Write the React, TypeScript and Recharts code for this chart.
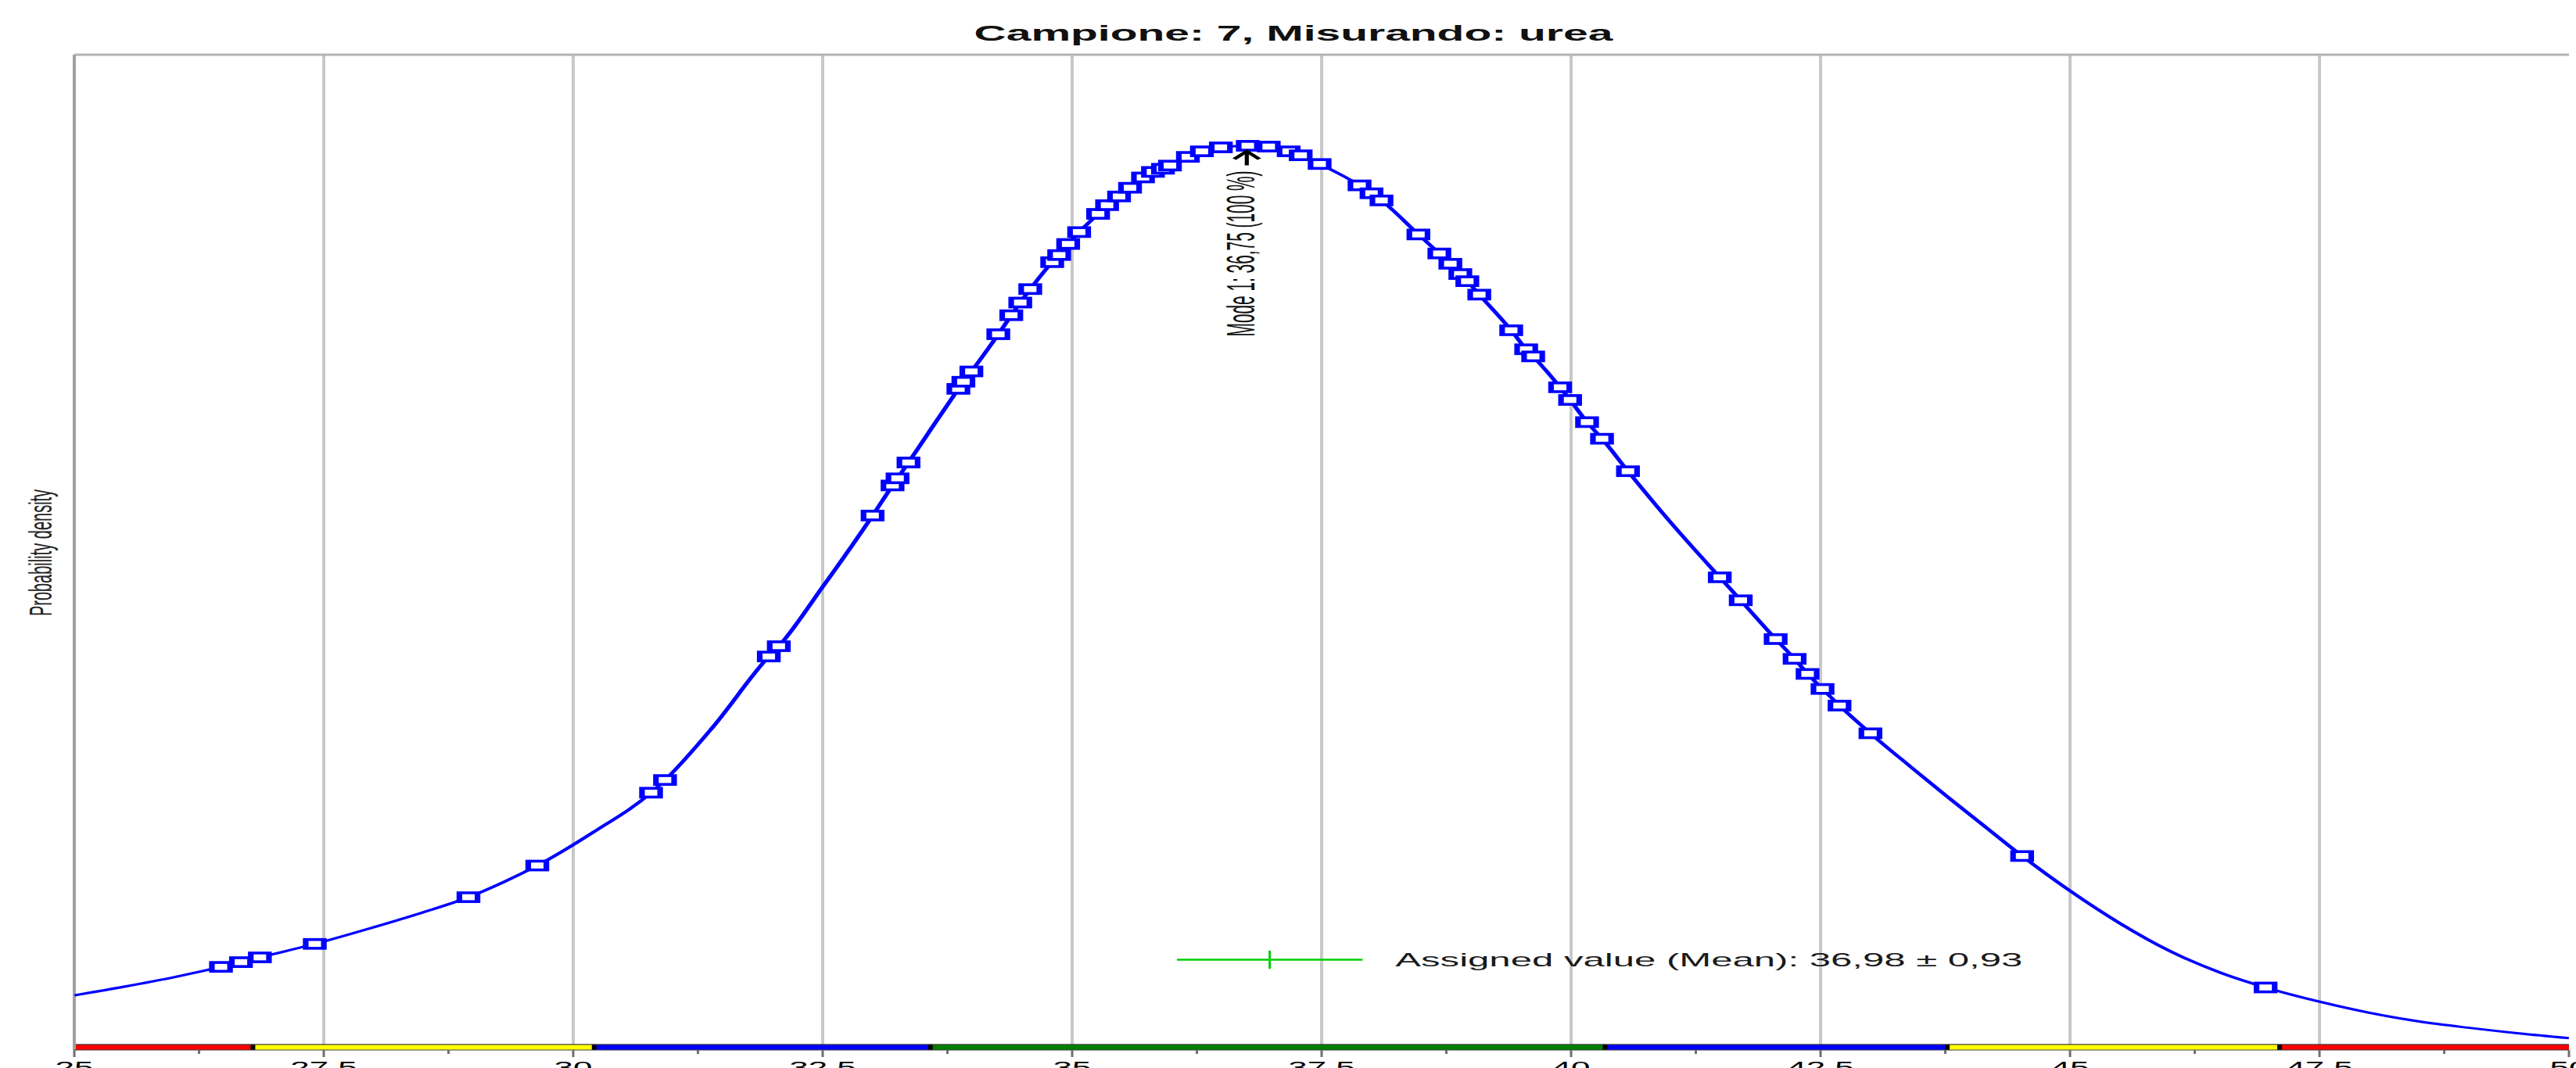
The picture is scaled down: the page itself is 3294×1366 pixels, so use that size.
import React from "react";
import {
  CartesianGrid,
  ComposedChart,
  Line,
  ReferenceArea,
  ReferenceDot,
  ReferenceLine,
  Scatter,
  XAxis,
  YAxis,
} from "recharts";

// density curve (points between the participant results)
const curveX = [
  25, 25.5, 26, 28, 28.5, 29.3, 30.2, 31.4, 32.5, 33.6,
  41, 43.4, 43.75, 44.1, 45, 45.5, 46, 46.5, 47.5, 48, 48.5, 49, 49.5, 50,
];
const curveY = [
  0.0062, 0.0073, 0.0085, 0.0148, 0.0167, 0.0205, 0.0268, 0.0401, 0.0578, 0.078,
  0.0659, 0.0351, 0.0315, 0.028, 0.0194, 0.0153, 0.0118, 0.0091, 0.0054, 0.004, 0.0029, 0.0021, 0.0014, 0.0008,
];

// participant results, drawn on the curve
const resultX = [
  26.47, 26.67, 26.86, 27.41, 28.95, 29.64, 30.78, 30.92, 31.96, 32.06,
  33.0, 33.2, 33.25, 33.36, 33.86, 33.91, 33.99, 34.26, 34.39, 34.48,
  34.58, 34.8, 34.87, 34.96, 35.07, 35.26, 35.35, 35.47, 35.58, 35.71,
  35.81, 35.91, 35.98, 36.16, 36.3, 36.49, 36.76, 36.97, 37.17, 37.29,
  37.48, 37.88, 38.0, 38.1, 38.47, 38.68, 38.79, 38.89, 38.96, 39.08,
  39.4, 39.55, 39.62, 39.89, 39.99, 40.16, 40.31, 40.57, 41.49, 41.7,
  42.05, 42.24, 42.37, 42.52, 42.69, 43.0, 44.52, 46.96,
];
const resultY = [
  0.0098, 0.0104, 0.011, 0.0127, 0.0186, 0.0226, 0.0318, 0.0334, 0.049, 0.0503,
  0.0668, 0.0706, 0.0715, 0.0735, 0.0828, 0.0837, 0.085, 0.0897, 0.0921, 0.0937,
  0.0954, 0.0988, 0.0997, 0.1011, 0.1026, 0.1049, 0.106, 0.1071, 0.1082, 0.1095,
  0.1102, 0.1106, 0.111, 0.1121, 0.1128, 0.1133, 0.1135, 0.1134, 0.1128, 0.1123,
  0.1112, 0.1085, 0.1075, 0.1066, 0.1023, 0.0999, 0.0986, 0.0973, 0.0964, 0.0947,
  0.0902, 0.0878, 0.0869, 0.083, 0.0814, 0.0786, 0.0765, 0.0724, 0.059, 0.0561,
  0.0512, 0.0487, 0.0468, 0.0449, 0.0428, 0.0393, 0.0238, 0.0072,
];

const majorTicks = [25, 27.5, 30, 32.5, 35, 37.5, 40, 42.5, 45, 47.5, 50];
const minorTicks = [26.25, 28.75, 31.25, 33.75, 36.25, 38.75, 41.25, 43.75, 46.25, 48.75];
const gridTicks = [27.5, 30, 32.5, 35, 37.5, 40, 42.5, 45, 47.5];

const zoneEdges = [25, 26.79, 30.21, 33.58, 40.34, 43.77, 47.1, 50];
const zoneColors = ["#ff0000", "#ffff00", "#0000ff", "#008000", "#0000ff", "#ffff00", "#ff0000"];

const modeValue = 36.75;
const modeDensity = 0.1135;
const assignedValue = 36.98;
const assignedUncertainty = 0.93;
const legendLevel = 0.0107;

const Y_MIN = -0.0007;
const Y_MAX = 0.125;
const FONT = "'Liberation Sans', Arial, sans-serif";

const curveData = [
  ...curveX.map((x, i) => ({ x, d: curveY[i] })),
  ...resultX.map((x, i) => ({ x, d: resultY[i] })),
].sort((a, b) => a.x - b.x);

const resultData = resultX.map((x, i) => ({ x, d: resultY[i] }));

const allTicks = [...majorTicks, ...minorTicks].sort((a, b) => a - b);

const comma = (v: number) => String(v).replace(".", ",");

function AxisTick(props: any) {
  const { x, y, payload } = props;
  const value = payload.value as number;
  const major = majorTicks.includes(value);
  return (
    <g>
      <line x1={x} x2={x} y1={y} y2={y + (major ? 9 : 5)} stroke="#707070" strokeWidth={1.5} />
      {major && (
        <text x={x} y={y + 30} textAnchor="middle" fontSize={22} fontFamily={FONT} fill="#000">
          {comma(value)}
        </text>
      )}
    </g>
  );
}

function ResultMarker(props: any) {
  const { cx, cy } = props;
  return (
    <rect x={cx - 5.8} y={cy - 5.6} width={11.6} height={11.2} fill="#ffffff" stroke="#0000ff" strokeWidth={3.6} />
  );
}

function ModeMarker(props: any) {
  const { cx, cy } = props;
  return (
    <g>
      <path d={`M${cx - 8},${cy + 17} L${cx},${cy + 7} L${cx + 8},${cy + 17}`} fill="none" stroke="#000" strokeWidth={3} />
      <line x1={cx} x2={cx} y1={cy + 7} y2={cy + 25} stroke="#000" strokeWidth={2.6} />
      <text
        x={cx + 5}
        y={cy + 138}
        transform={`rotate(-90 ${cx + 5} ${cy + 138})`}
        textAnchor="middle"
        fontSize={25}
        textLength={212}
        lengthAdjust="spacingAndGlyphs"
        fontFamily={FONT}
        fill="#111"
      >
        {`Mode 1: ${comma(modeValue)} (100 %)`}
      </text>
    </g>
  );
}

function LegendText(props: any) {
  const { cx, cy } = props;
  return (
    <text
      x={cx + 21}
      y={cy + 8}
      fontSize={24}
      textLength={401}
      lengthAdjust="spacingAndGlyphs"
      fontFamily={FONT}
      fill="#1a1a1a"
    >
      {`Assigned value (Mean): ${comma(assignedValue)} ± ${comma(assignedUncertainty)}`}
    </text>
  );
}

export default function App() {
  const W = 1647;
  const H = 1366;
  return (
    <>
      <style>{`html,body{margin:0;overflow:hidden;background:#fff}`}</style>
      <div
        style={{
          position: "absolute",
          left: 0,
          top: 0,
          width: W,
          height: H,
          transform: "scaleX(2)",
          transformOrigin: "0 0",
          background: "#fff",
        }}
      >
        <ComposedChart width={W} height={H} margin={{ top: 70, right: 4.5, bottom: 0, left: 47.5 }}>
          <CartesianGrid horizontal={false} verticalValues={gridTicks} stroke="#c8c8c8" strokeWidth={2} />
          <XAxis
            type="number"
            dataKey="x"
            domain={[25, 50]}
            ticks={allTicks}
            interval={0}
            allowDataOverflow
            height={23}
            tickSize={0}
            tickMargin={0}
            tickLine={false}
            axisLine={{ stroke: "#404040", strokeWidth: 1.2 }}
            tick={(p: any) => <AxisTick {...p} />}
          />
          <YAxis type="number" dataKey="d" domain={[Y_MIN, Y_MAX]} hide allowDataOverflow />
          {zoneColors.map((c, i) => (
            <ReferenceArea
              key={`zone-${i}`}
              x1={zoneEdges[i]}
              x2={zoneEdges[i + 1]}
              y1={Y_MIN}
              y2={0}
              fill={c}
              fillOpacity={1}
              stroke="none"
            />
          ))}
          {zoneEdges.slice(1, -1).map((e) => (
            <ReferenceLine
              key={`edge-${e}`}
              segment={[{ x: e, y: Y_MIN }, { x: e, y: 0 }]}
              stroke="#000"
              strokeWidth={3}
            />
          ))}
          <ReferenceLine y={0} stroke="#404040" strokeWidth={1.2} />
          <ReferenceLine y={Y_MAX} stroke="#b4b4b4" strokeWidth={3} />
          <ReferenceLine x={25} stroke="#a0a0a0" strokeWidth={2} />
          <ReferenceLine
            segment={[
              { x: assignedValue - assignedUncertainty, y: legendLevel },
              { x: assignedValue + assignedUncertainty, y: legendLevel },
            ]}
            stroke="#00cc00"
            strokeWidth={2.5}
          />
          <ReferenceLine
            segment={[
              { x: assignedValue, y: legendLevel - 0.00115 },
              { x: assignedValue, y: legendLevel + 0.00115 },
            ]}
            stroke="#00cc00"
            strokeWidth={1.5}
          />
          <ReferenceDot
            x={assignedValue + assignedUncertainty}
            y={legendLevel}
            r={1}
            shape={(p: any) => <LegendText {...p} />}
          />
          <Line
            data={curveData}
            dataKey="d"
            type="monotone"
            stroke="#0000ff"
            strokeWidth={3}
            dot={false}
            activeDot={false}
            isAnimationActive={false}
          />
          <Scatter
            data={resultData}
            dataKey="d"
            shape={(p: any) => <ResultMarker {...p} />}
            isAnimationActive={false}
          />
          <ReferenceDot x={modeValue} y={modeDensity} r={1} shape={(p: any) => <ModeMarker {...p} />} />
        </ComposedChart>
        <svg
          width={W}
          height={H}
          style={{ position: "absolute", left: 0, top: 0, pointerEvents: "none" }}
        >
          <text x={827} y={52} textAnchor="middle" fontSize={28.5} fontWeight="bold" fontFamily={FONT} fill="#111">
            Campione: 7, Misurando: urea
          </text>
          <text
            x={33}
            y={707}
            transform="rotate(-90 33 707)"
            textAnchor="middle"
            fontSize={20}
            fontFamily={FONT}
            fill="#222"
          >
            Probability density
          </text>
        </svg>
      </div>
    </>
  );
}
